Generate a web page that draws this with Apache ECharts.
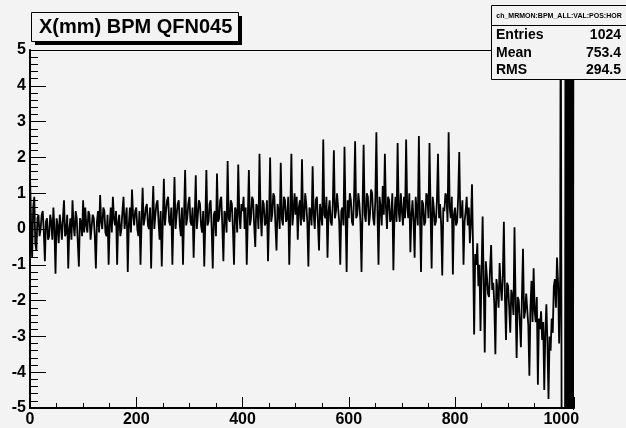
<!DOCTYPE html>
<html>
<head>
<meta charset="utf-8">
<script src="https://cdn.jsdelivr.net/npm/echarts@6/dist/echarts.min.js"></script>
<style>
  html, body { margin: 0; padding: 0; background: #f3f3f3; }
  #chart { width: 626px; height: 428px; }
</style>
</head>
<body>
<div id="chart"></div>
<script>
// one value every 2 bins, bins 0..998
const binStep = 2
const mainValues = [
  // 0 - 98
  1.5, 0.2, -0.8, 0.6, 0.9, -0.4, -0.6, 0.3, 0.4, -0.2, 0.0, 0.4, 0.5, -0.1, -0.9, 0.2, 0.3, -0.3, -0.2, 0.4,
  0.2, -0.3, 0.6, 0.0, -1.25, 0.3, 0.1, -0.4, 0.4, 0.1, -0.3, 0.3, 0.8, -0.2, -0.1, 0.4, -1.1, 0.0, 0.3, -0.3,
  0.8, 0.1, -0.2, 0.5, 0.3, -0.4, -1.05, 0.3, 0.2, -0.2,
  // 100 - 198
  0.8, -0.1, 0.6, 0.1, -0.1, 0.5, 0.4, -0.3, -0.3, 0.4, 0.3, -0.2, -1.1, 0.2, 0.5, -0.1, 0.95, 0.2, 0.0, 0.6,
  0.5, -0.1, -0.2, 0.4, -1.0, 0.1, 0.6, -0.1, 0.9, 0.3, 0.1, 0.5, -1.0, 0.2, 0.4, -0.2, 0.0, 0.5, 0.9, 0.0,
  0.3, 0.6, -1.2, 0.1, 0.6, -0.1, 1.1, 0.4, 0.1, 0.5,
  // 200 - 298
  0.6, 0.0, -0.2, 0.5, -1.0, 0.2, 1.15, 0.1, 0.3, 0.6, 0.7, 0.1, 0.0, 0.6, -1.1, 0.3, 1.2, 0.0, 0.4, 0.7,
  0.8, 0.2, -0.3, 0.5, -1.05, 0.2, 1.4, 0.1, 0.5, 0.8, 0.9, 0.2, 0.1, 0.6, -1.0, 0.3, 1.45, 0.0, 0.4, 0.7,
  0.8, 0.1, -0.2, 0.6, -1.0, 0.4, 1.65, 0.1, 0.3, 0.7,
  // 300 - 398
  0.9, 0.2, 0.1, 0.6, -0.8, 0.3, 1.5, 0.0, 0.4, 0.8, 0.7, 0.1, -0.1, 0.5, -1.05, 0.2, 1.65, 0.1, 0.2, 0.7,
  0.8, 0.0, -1.1, 0.4, 0.5, -0.2, 1.55, 0.2, 0.3, 0.8, 0.9, 0.1, -0.9, 0.5, 0.4, -0.1, 1.9, 0.3, 0.2, 0.8,
  0.7, 0.0, -1.0, 0.6, 0.5, -0.1, 1.8, 0.4, 0.0, 0.7,
  // 400 - 498
  0.5, 0.9, 0.0, 0.6, -1.0, 0.3, 1.65, 0.1, 0.3, 0.9, 0.8, 0.1, -0.5, 0.7, 0.6, 0.0, 2.1, 0.4, -0.2, 0.8,
  0.7, 0.1, 0.2, 0.8, -0.9, 0.3, 2.0, 0.2, 0.4, 1.0, 0.9, 0.1, -0.6, 0.7, 0.5, 0.0, 1.85, 0.3, 0.1, 0.9,
  0.8, 0.2, 0.3, 0.9, -1.0, 0.4, 2.1, 0.1, 0.5, 1.0,
  // 500 - 598
  0.4, 0.9, -0.3, 0.6, 0.8, 0.1, 1.95, 0.3, 0.2, 1.0, 0.7, 0.2, -1.05, 0.6, 0.5, 0.1, 1.75, 0.4, 0.0, 0.8,
  0.9, 0.2, -0.6, 0.7, 0.4, 0.1, 2.5, 0.4, 0.3, 0.9, -0.8, 0.5, 0.8, 0.2, 0.1, 0.7, 2.2, 0.3, 0.5, 1.0,
  1.0, 0.2, -1.0, 0.5, 0.6, 0.1, 2.3, 0.4, -1.2, 0.8,
  // 600 - 698
  0.3, 1.0, 0.8, 0.2, 0.1, 0.9, 2.45, 0.3, 0.4, 1.0, 0.7, 0.2, -1.2, 0.6, 2.35, 0.4, 0.2, 1.0, 0.9, 0.1,
  0.4, 1.1, 1.0, 0.3, 0.1, 0.8, 2.7, 0.5, -1.0, 0.9, 0.6, 0.1, 1.2, 0.4, 2.1, 0.6, 0.0, 0.9, 0.8, 0.2,
  0.3, 1.0, -1.15, 0.4, 0.9, 0.2, 2.4, 0.5, 0.2, 1.0,
  // 700 - 798
  0.5, 0.1, 0.9, 0.3, 2.5, 0.6, 0.3, 1.0, -0.65, 0.4, 0.8, 0.2, -0.8, 0.9, 0.5, 0.1, 2.6, 0.4, -1.2, 0.8,
  0.7, 0.1, 0.2, 1.0, 0.9, 0.3, 2.4, 0.5, -1.1, 0.9, 0.6, 0.1, 0.2, 0.8, 2.1, 0.3, 0.7, 0.1, -1.3, 0.6,
  0.5, 1.0, 0.9, 0.2, 2.7, 0.6, 0.3, 0.9, -1.27, 0.4,
  // 800 - 898
  0.6, 0.1, 0.2, 0.9, 2.15, 0.3, 0.4, 0.8, -1.0, 0.2, 0.5, 0.9, 0.1, 0.6, -0.4, 0.2, 1.25, -0.6, -2.95, -0.7,
  -1.0, -0.4, -1.6, -1.0, -2.85, -1.2, 0.35, -1.5, -3.45, -0.9, -1.3, -1.8, -1.9, -1.1, -0.45, -1.7, -1.5, -2.1, -3.5, -1.4,
  -1.7, -2.2, -0.95, -1.6, -2.0, -1.3, 0.2, -1.9, -3.1, -1.5,
  // 900 - 998
  -1.6, -2.2, -2.9, -1.7, -1.9, -2.4, 0.05, -2.0, -3.6, -1.9, -2.0, -2.6, -3.3, -1.9, -0.55, -2.5, -2.3, -1.8, -1.8, -2.7,
  -4.1, -2.2, -1.45, -2.6, -1.1, -2.3, -2.6, -1.9, -4.35, -2.5, -2.8, -2.3, -3.1, -2.6, -4.5, -2.9, -2.1, -3.2, -4.75, -3.0,
  -3.4, -2.5, -2.9, -1.6, -1.4, -2.2, -0.8, -1.5, -3.2, -1.3
]
// last bins, off scale
const tailBins = [999, 1001, 1007, 1008, 1009, 1011, 1012, 1013, 1014, 1015, 1016, 1017, 1018, 1019, 1020, 1021, 1022, 1023]
const tailValues = [8, -8, -8, 8, -8, 8, -8, 8, -8, 8, -8, 8, -8, 8, -8, 8, -8, 8]

const statsRows = [
  ['Entries', '1024'],
  ['Mean', '753.4'],
  ['RMS', '294.5']
]

const points = mainValues.map((v, i) => [i * binStep, v])
tailBins.forEach((b, i) => points.push([b, tailValues[i]]))

const font = '"Liberation Sans", Arial, Helvetica, sans-serif'
const bg = '#f3f3f3'

const chart = echarts.init(document.getElementById('chart'))

const graphics = [
  // frame top / right
  { type: 'line', shape: { x1: 30, y1: 50.5, x2: 574, y2: 50.5 }, style: { stroke: '#000', lineWidth: 1 }, z: 90 },
  { type: 'line', shape: { x1: 573.5, y1: 50, x2: 573.5, y2: 410 }, style: { stroke: '#000', lineWidth: 1 }, z: 90 },
  // title
  { type: 'rect', shape: { x: 35, y: 16, width: 207, height: 29 }, style: { fill: '#000' }, z: 100 },
  { type: 'rect', shape: { x: 31.5, y: 12.5, width: 207, height: 29 }, style: { fill: bg, stroke: '#000', lineWidth: 1 }, z: 101 },
  { type: 'text', x: 39, y: 27.5, style: { text: 'X(mm) BPM QFN045', font: 'bold 20px ' + font, fill: '#000', verticalAlign: 'middle' }, z: 102 },
  // stats box
  { type: 'rect', shape: { x: 491.5, y: 5.5, width: 140, height: 74 }, style: { fill: bg, stroke: '#000', lineWidth: 1 }, z: 101 },
  { type: 'line', shape: { x1: 492, y1: 25.5, x2: 626, y2: 25.5 }, style: { stroke: '#000', lineWidth: 1 }, z: 102 },
  { type: 'text', x: 559, y: 16, style: { text: 'ch_MRMON:BPM_ALL:VAL:POS:HOR', font: 'bold 7px ' + font, fill: '#000', align: 'center', verticalAlign: 'middle' }, z: 102 }
]
statsRows.forEach((row, i) => {
  const y = 35 + i * 17.8
  graphics.push({ type: 'text', x: 496, y: y, style: { text: row[0], font: 'bold 14px ' + font, fill: '#000', verticalAlign: 'middle' }, z: 102 })
  graphics.push({ type: 'text', x: 621, y: y, style: { text: row[1], font: 'bold 14px ' + font, fill: '#000', align: 'right', verticalAlign: 'middle' }, z: 102 })
})

chart.setOption({
  backgroundColor: bg,
  animation: false,
  grid: { left: 30, right: 52, top: 50, bottom: 18 },
  xAxis: {
    type: 'value',
    min: 0,
    max: 1024,
    interval: 200,
    axisLine: { onZero: false, lineStyle: { color: '#000', width: 2 } },
    axisTick: { inside: true, length: 11, lineStyle: { color: '#000', width: 1 } },
    minorTick: { show: true, splitNumber: 4, length: 5, lineStyle: { color: '#000', width: 1 } },
    splitLine: { show: false },
    axisLabel: {
      color: '#000', fontFamily: font, fontWeight: 'bold', fontSize: 16, margin: 4,
      showMaxLabel: false,
      formatter: v => (v % 200 === 0 ? String(v) : '')
    }
  },
  yAxis: {
    type: 'value',
    min: -5,
    max: 5,
    interval: 1,
    axisLine: { onZero: false, lineStyle: { color: '#000', width: 2 } },
    axisTick: { inside: true, length: 16, lineStyle: { color: '#000', width: 1 } },
    minorTick: { show: true, splitNumber: 5, length: 8, lineStyle: { color: '#000', width: 1 } },
    splitLine: { show: false },
    axisLabel: { color: '#000', fontFamily: font, fontWeight: 'bold', fontSize: 16, margin: 4 }
  },
  series: [{
    type: 'line',
    data: points,
    showSymbol: false,
    sampling: 'none',
    clip: true,
    lineStyle: { color: '#000', width: 1.8 }
  }],
  graphic: graphics
})
</script>
</body>
</html>
